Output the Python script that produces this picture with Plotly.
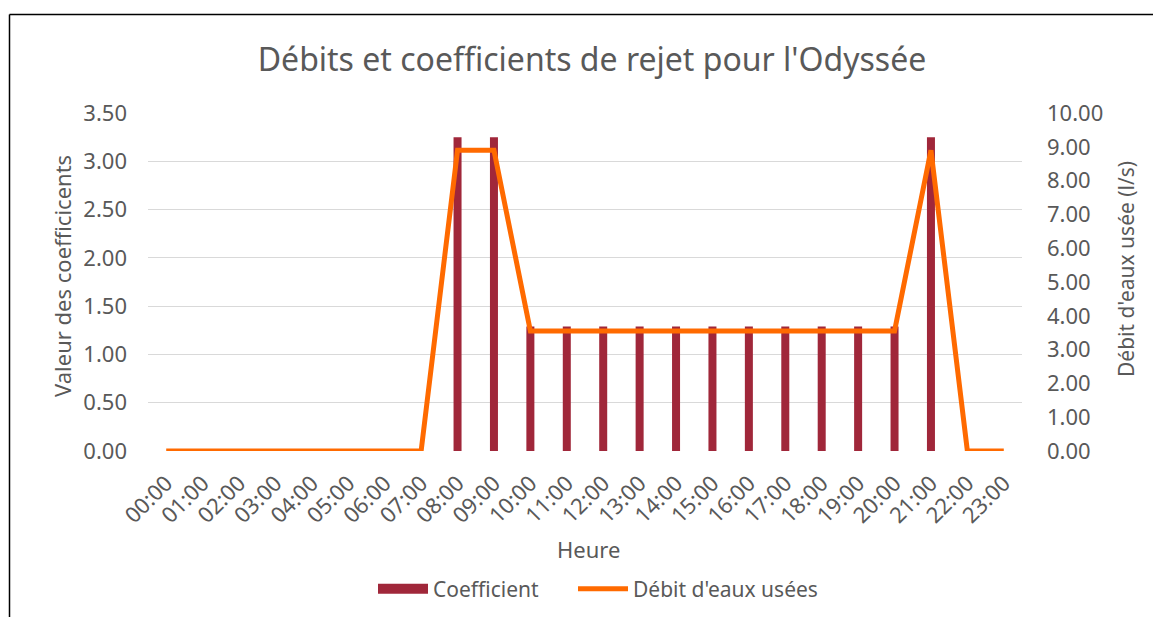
import plotly.graph_objects as go

hours = [f"{h:02d}:00" for h in range(24)]
coefficient = [0, 0, 0, 0, 0, 0, 0, 0, 3.25, 3.25, 1.29, 1.29, 1.29, 1.29, 1.29, 1.29,
               1.29, 1.29, 1.29, 1.29, 1.29, 3.25, 0, 0]
debit = [0, 0, 0, 0, 0, 0, 0, 0, 8.9, 8.9, 3.55, 3.55, 3.55, 3.55, 3.55, 3.55,
         3.55, 3.55, 3.55, 3.55, 3.55, 8.9, 0, 0]

OFF = 8  # default page body margin
W, H = 1161 - OFF, 617 - OFF
L, R, T, B = 148 - OFF, 1022 - OFF, 113 - OFF, 451 - OFF
pw, ph = R - L, B - T

def px(x):
    return (x - OFF - L) / pw

def py(y):
    return (B - (y - OFF)) / ph

FONT = "Noto Sans"
GREY = "#595959"
BAR_COLOR = "#A0273A"

fig = go.Figure()
fig.add_trace(go.Bar(x=hours, y=coefficient, name="Coefficient",
                     marker=dict(color=BAR_COLOR, line=dict(width=0)),
                     width=0.22, yaxis="y", showlegend=False, legendgroup="coef"))
# legend entry for the bars drawn as a wide swatch
fig.add_trace(go.Scatter(x=[None], y=[None], name="Coefficient", mode="lines",
                         line=dict(color=BAR_COLOR, width=14), legendgroup="coef",
                         yaxis="y", hoverinfo="skip", legend="legend"))
fig.add_trace(go.Scatter(x=hours, y=debit, name="Débit d'eaux usées", mode="lines",
                         line=dict(color="#FF6A00", width=5), yaxis="y2", legend="legend2"))

legend_common = dict(orientation="h", xanchor="left", y=py(589), yanchor="middle",
                     font=dict(size=21, color=GREY), itemwidth=50, bgcolor="rgba(0,0,0,0)")

fig.update_layout(
    width=W, height=H,
    margin=dict(l=L, r=W - R, t=T, b=H - B, autoexpand=False),
    paper_bgcolor="white", plot_bgcolor="white",
    font=dict(family=FONT, color=GREY, size=22),
    title=dict(text="Débits et coefficients de rejet pour l'Odyssée",
               x=(592 - OFF) / W, xanchor="center", y=1 - (60 - OFF) / H, yanchor="middle",
               font=dict(size=32, color=GREY, family=FONT)),
    showlegend=True,
    legend=dict(x=px(373), **legend_common),
    legend2=dict(x=px(573), **legend_common),
    xaxis=dict(type="category", tickangle=-45, showgrid=False, showline=False,
               ticks="", tickfont=dict(size=22, color=GREY), ticklabelstandoff=14),
    yaxis=dict(range=[0, 3.5], dtick=0.5, tickformat=".2f", showgrid=True,
               gridcolor="#D9D9D9", gridwidth=1.3, zeroline=False, showline=False,
               ticks="", ticklabelstandoff=20, tickfont=dict(size=22, color=GREY)),
    yaxis2=dict(range=[0, 10], dtick=1, tickformat=".2f", overlaying="y", side="right",
                showgrid=False, zeroline=False, showline=False, ticks="",
                ticklabelstandoff=24, tickfont=dict(size=22, color=GREY)),
    annotations=[
        dict(text="Valeur des coefficicents", x=px(62), y=py(276), xref="paper", yref="paper",
             textangle=-90, showarrow=False, font=dict(size=22, color=GREY),
             xanchor="center", yanchor="middle"),
        dict(text="Débit d'eaux usée (l/s)", x=px(1126), y=py(269), xref="paper", yref="paper",
             textangle=-90, showarrow=False, font=dict(size=21, color=GREY),
             xanchor="center", yanchor="middle"),
        dict(text="Heure", x=px(588), y=py(549), xref="paper", yref="paper",
             showarrow=False, font=dict(size=22, color=GREY),
             xanchor="center", yanchor="middle"),
    ],
    shapes=[
        dict(type="line", xref="paper", yref="paper", x0=px(9.5), x1=px(1170), y0=py(14.5), y1=py(14.5),
             line=dict(color="black", width=1.5)),
        dict(type="line", xref="paper", yref="paper", x0=px(9.5), x1=px(9.5), y0=py(14.5), y1=py(625),
             line=dict(color="black", width=1.5)),
    ],
)

fig.write_html("out.html")
